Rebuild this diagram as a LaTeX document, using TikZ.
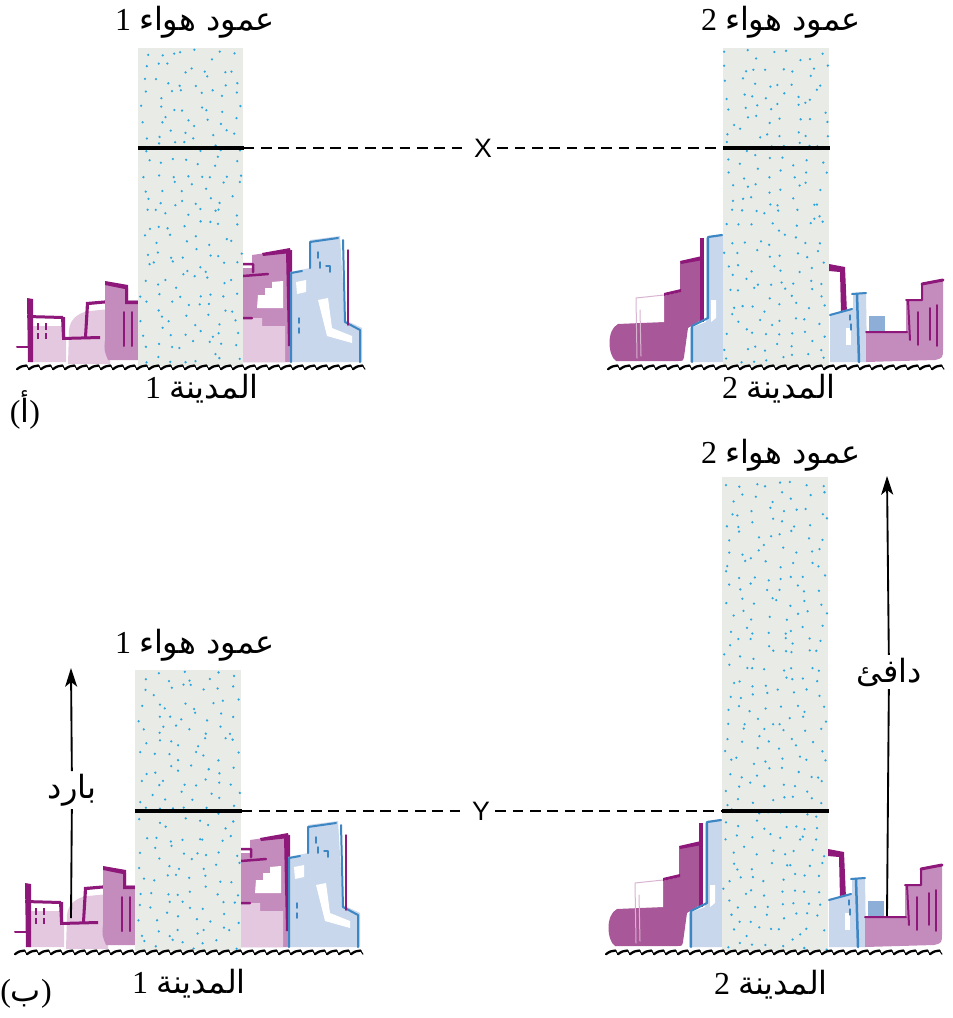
\documentclass[tikz,border=0pt]{standalone}
\usepackage{fontspec}
\setmainfont{Liberation Serif}
\newfontfamily\arabicfont[Script=Arabic]{DejaVu Sans}
\newfontfamily\latinsans{Liberation Sans}
\TeXXeTstate=1
\usetikzlibrary{arrows.meta}

\definecolor{colfill}{HTML}{E9ECE6}
\definecolor{dotc}{HTML}{2CA6DE}
\definecolor{dk}{HTML}{8E1879}
\definecolor{md}{HTML}{C48CBD}
\definecolor{lt}{HTML}{E3C8DF}
\definecolor{pp}{HTML}{A85898}
\definecolor{lb}{HTML}{C8D7EB}
\definecolor{bl}{HTML}{3C86C4}
\definecolor{mb}{HTML}{8CAED7}

\tikzset{
  lbl/.style={inner sep=2pt, font=\fontsize{24}{28}\selectfont},
  tag/.style={inner sep=4pt, font=\latinsans\fontsize{20}{22}\selectfont},
  column/.style 2 args={draw=none, fill=colfill, rectangle, inner sep=0pt,
    anchor=north west, minimum width=#1*0.75pt, minimum height=#2*0.75pt},
  level/.style={line width=2.3pt},
  guide/.style={line width=0.9pt, dash pattern=on 8pt off 5pt},
  stem/.style={line width=1.4pt},
  rise/.style={line width=1.4pt, -{Stealth[length=14pt,width=9pt,inset=3.5pt]}},
  stroke/.style={line width=#1*0.75pt, line cap=round, line join=round},
}

% scattered blue specks inside an air column
\newcommand\speckle[5]{%
  \pgfmathsetseed{#5}%
  \pgfmathtruncatemacro\spnx{(#3-#1)/13}%
  \pgfmathtruncatemacro\spny{(#4-#2)/13}%
  \pgfmathsetmacro\spsx{(#3-#1)/\spnx}%
  \pgfmathsetmacro\spsy{(#4-#2)/\spny}%
  \foreach \i in {1,...,\spnx}{\foreach \j in {1,...,\spny}{%
    \pgfmathsetmacro\spx{#1+(\i-0.5)*\spsx+rand*0.42*\spsx}%
    \pgfmathsetmacro\spy{#2+(\j-0.5)*\spsy+rand*0.42*\spsy}%
    \fill[dotc] (\spx,\spy) circle (0.95pt);}}}

% sketched ground line: a row of rising brush strokes
\newcommand\ground[3]{%
  \pgfmathsetmacro\gnext{#1+12}%
  \pgfmathsetmacro\gend{#2-10}%
  \foreach \gx in {#1,\gnext,...,\gend}{%
    \draw[line width=1.7pt, line cap=round] (\gx,#3+2.2) .. controls (\gx+3,#3-0.2) and (\gx+6,#3-1.5) .. (\gx+9.5,#3-1.5);
    \draw[line width=0.8pt, line cap=round] (\gx+9.5,#3-1.5) -- (\gx+12,#3+2.2);}}

% houses of the first town, ground at y = 366
\newcommand\townone{%
  % left block
  \fill[lt] (30,326) -- (64,326) -- (66,340) -- (66,362) -- (30,362) -- cycle;
  \fill[dk] (27,298) -- (33,299) -- (33,362) -- (28,362) -- cycle;
  \fill[dk] (27,315) -- (63,316) -- (63,319) -- (27,318) -- cycle;
  \fill[dk] (61,317) -- (65,317) -- (65,337) -- (62,337) -- cycle;
  \draw[dk, stroke=2] (17,347) -- (30,347);
  \foreach \wx in {37,45}{\fill[dk] (\wx,323) rectangle (\wx+2,330); \fill[dk] (\wx,333) rectangle (\wx+2,339);}
  \fill[lt] (69,330) .. controls (70,318) and (80,312) .. (90,311) -- (110,309) -- (110,364) -- (68,364) -- cycle;
  \fill[dk] (86,302) -- (110,300) -- (110,303) -- (89,305) -- (87,337) -- (84,337) -- cycle;
  \fill[dk] (62,337) -- (100,336) -- (100,339) -- (62,340) -- cycle;
  \fill[md] (105,285) -- (128,288) -- (128,300) -- (138,300) -- (138,360) -- (108,360) .. controls (104,350) .. (105,340) -- cycle;
  \fill[dk] (105,281) -- (128,285) -- (128,301) -- (138,301) -- (138,304) -- (125,304) -- (125,289) -- (105,285) -- cycle;
  \draw[dk, stroke=2] (124,312) -- (124,346) (132,312) -- (132,346);
  % right block
  \fill[md] (243,268) -- (252,268) -- (252,255) -- (287,250) -- (291,345) -- (290,362) -- (243,362) -- cycle;
  \fill[white] (257,308) -- (258,295) -- (265,295) -- (265,288) -- (272,288) -- (272,282) -- (283,281) -- (283,308) -- cycle;
  \fill[lt] (243,318) -- (262,318) -- (262,326) -- (285,326) -- (285,362) -- (243,362) -- cycle;
  \fill[dk] (262,253) -- (290,248) -- (291,253) -- (263,256) -- cycle;
  \fill[dk] (286,251) -- (292,250) -- (292,346) -- (288,346) -- cycle;
  \draw[dk, stroke=2.5] (243,264) -- (253,264) -- (253,272) (243,276) -- (268,274) (243,318) -- (252,318);
  \fill[lb] (290,272) -- (310,268) -- (310,240) -- (340,236) -- (345,320) -- (362,328) -- (362,362) -- (290,362) -- cycle;
  \fill[white] (318,300) -- (328,298) -- (332,328) -- (352,336) -- (352,343) -- (327,336) -- cycle;
  \fill[white] (296,282) -- (306,280) -- (306,292) -- (297,294) -- cycle;
  \draw[bl, stroke=2] (291,362) -- (291,273) -- (302,271) (310,268) -- (310,242) -- (338,238) (343,240) -- (345,322) -- (360,330) -- (360,362);
  \draw[dk, stroke=1.5] (348,250) -- (348,325);
  \draw[bl, stroke=1.5] (318,252) -- (318,258) (320,262) -- (320,268) (326,266) -- (330,266) -- (330,272) (299,318) -- (299,323) (299,328) -- (299,333);
}

% houses of the second town, ground at y = 366
\newcommand\towntwo{%
  \fill[pp] (616,361) .. controls (608,356) and (606,330) .. (618,324) -- (664,322) -- (664,296) -- (680,292) -- (680,262) -- (701,258) -- (701,320) -- (688,328) -- (684,357) .. controls (683,361) .. (678,361) -- cycle;
  \fill[white] (634,322) -- (634,298) -- (664,296) -- (664,322) -- cycle;
  \draw[pp!45, stroke=1] (637,358) -- (636,298) -- (664,295) (641,356) -- (640,310);
  \fill[dk] (664,293) -- (681,289) -- (681,292) -- (664,296) -- cycle;
  \fill[dk] (680,261) -- (702,256) -- (703,260) -- (681,264) -- cycle;
  \fill[dk] (700,238) -- (704,238) -- (704,322) -- (700,322) -- cycle;
  \fill[lb] (690,362) -- (690,328) -- (706,322) -- (706,238) -- (723,235) -- (723,362) -- cycle;
  \fill[white] (711,300) -- (716,300) -- (716,318) -- (711,322) -- cycle;
  \draw[bl, stroke=2.2] (708,237) -- (708,318) -- (692,326) -- (692,362) (708,237) -- (722,235);
  % right side
  \fill[dk] (829,264) -- (845,267) -- (847,313) -- (841,313) -- (840,272) -- (829,271) -- cycle;
  \fill[lb] (830,362) -- (830,314) -- (853,308) -- (853,293) -- (866,292) -- (867,362) -- cycle;
  \fill[white] (846,328) -- (851,328) -- (851,345) -- (846,345) -- cycle;
  \draw[bl, stroke=2] (830,315) -- (852,309) (852,294) -- (866,293);
  \draw[bl, stroke=2.5] (857,294) -- (859,362);
  \draw[bl, stroke=1.2] (850,315) -- (850,320) (851,324) -- (851,330);
  \fill[mb] (869,316) rectangle (885,338);
  \fill[md] (866,332) -- (906,332) -- (906,300) -- (922,300) -- (922,285) -- (943,281) -- (943,348) .. controls (943,358) .. (935,360) -- (866,362) -- cycle;
  \draw[dk, stroke=2] (866,332) -- (907,332) (908,300) -- (910,340) (906,300) -- (922,300) -- (922,285);
  \draw[dk, stroke=3] (922,284) -- (943,280);
  \draw[dk, stroke=1.6] (918,312) -- (918,345) (930,308) -- (930,340) (937,305) -- (937,346);
}

\begin{document}
\begin{tikzpicture}[x=0.75pt, y=-0.75pt]
\useasboundingbox[fill=white] (0,0) rectangle (953,1018);

% ---------------- panel (a) ----------------
\townone
\towntwo
\node[column={105}{318}] (colA1) at (138,48) {};
\speckle{138}{48}{243}{366}{11}
\node[column={106}{318}] (colA2) at (723,48) {};
\speckle{723}{48}{829}{366}{23}
\ground{17}{370}{367}
\ground{608}{945}{367}

\node[tag] (X) at (483,148) {X};
\draw[level] (colA1.west |- X) -- (colA1.east |- X);
\draw[level] (colA2.west |- X) -- (colA2.east |- X);
\draw[guide] (colA1.east |- X) -- (X);
\draw[guide] (X) -- (colA2.west |- X);

\node[lbl] (hdA1) at (195,22) {1 {\arabicfont\beginR عمود هواء\endR}};
\node[lbl] (hdA2) at (781,22) {2 {\arabicfont\beginR عمود هواء\endR}};
\node[lbl] (cityA1) at (202,389) {1 {\arabicfont\beginR المدينة\endR}};
\node[lbl] (cityA2) at (779,389) {2 {\arabicfont\beginR المدينة\endR}};
\node[lbl] (partA) at (25,410) {({\arabicfont أ})};

% ---------------- panel (b) ----------------
\begin{scope}[shift={(-2,585)}]\townone\end{scope}
\begin{scope}[shift={(-1,585)}]\towntwo\end{scope}
\node[column={106}{281}] (colB1) at (135,670) {};
\speckle{135}{670}{241}{951}{37}
\node[column={106}{474}] (colB2) at (722,477) {};
\speckle{722}{477}{828}{951}{41}
\ground{15}{368}{952}
\ground{606}{944}{952}

\node[tag] (Y) at (481,811) {Y};
\draw[level] (colB1.west |- Y) -- (colB1.east |- Y);
\draw[level] (colB2.west |- Y) -- (colB2.east |- Y);
\draw[guide] (colB1.east |- Y) -- (Y);
\draw[guide] (Y) -- (colB2.west |- Y);

\node[lbl] (hdB1) at (195,645) {1 {\arabicfont\beginR عمود هواء\endR}};
\node[lbl] (hdB2) at (781,455) {2 {\arabicfont\beginR عمود هواء\endR}};
\node[lbl] (cityB1) at (189,984) {1 {\arabicfont\beginR المدينة\endR}};
\node[lbl] (cityB2) at (771,985) {2 {\arabicfont\beginR المدينة\endR}};
\node[lbl] (partB) at (26,994) {({\arabicfont ب})};

% rising air
\coordinate (coldfoot) at (71,918);
\coordinate (coldtip) at (71,668);
\node[lbl] (cold) at (72,790) {\arabicfont\beginR بارد\endR};
\draw[stem] (coldfoot) -- (cold);
\draw[rise] (cold) -- (coldtip);

\coordinate (warmfoot) at (887,916);
\coordinate (warmtip) at (887,476);
\node[lbl] (warm) at (889,672) {\arabicfont\beginR دافئ\endR};
\draw[stem] (warmfoot) -- (warm);
\draw[rise] (warm) -- (warmtip);
\end{tikzpicture}
\end{document}
